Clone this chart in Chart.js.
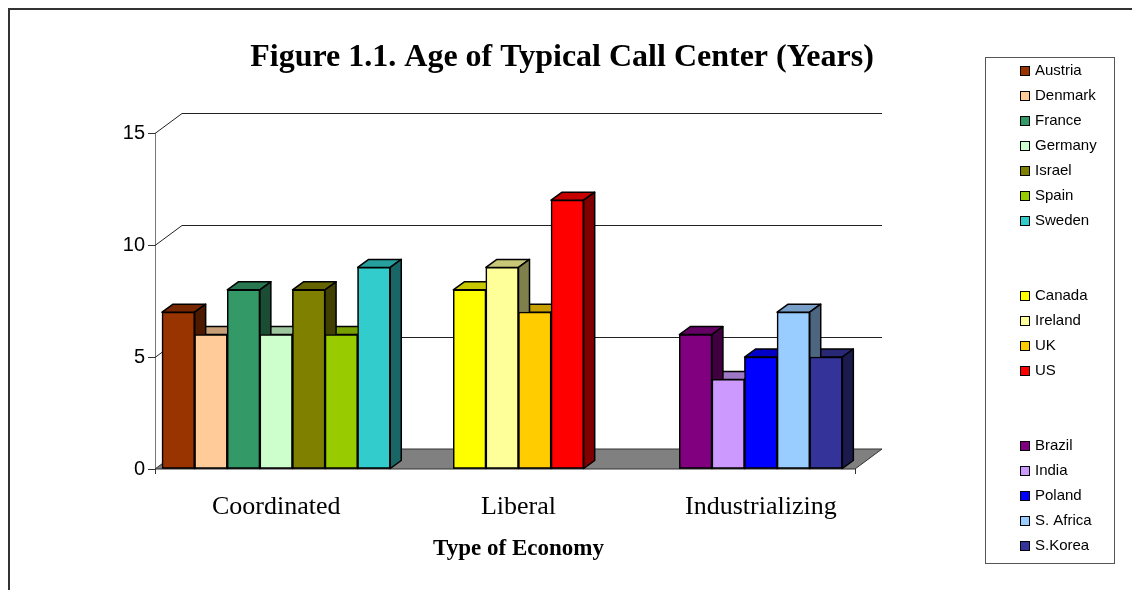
<!DOCTYPE html>
<html>
<head>
<meta charset="utf-8">
<script src="https://cdn.jsdelivr.net/npm/chart.js@4"></script>
<style>
  html, body { margin: 0; padding: 0; background: #fff; }
</style>
</head>
<body>
<canvas id="ageChart" width="1132" height="590"></canvas>
<script>
const economies = ['Coordinated', 'Liberal', 'Industrializing'];

const coordinatedCountries = ['Austria', 'Denmark', 'France', 'Germany', 'Israel', 'Spain', 'Sweden'];
const coordinatedAges = [7, 6, 8, 6, 8, 6, 9];

const liberalCountries = ['Canada', 'Ireland', 'UK', 'US'];
const liberalAges = [8, 9, 7, 12];

const industrializingCountries = ['Brazil', 'India', 'Poland', 'S. Africa', 'S.Korea'];
const industrializingAges = [6, 4, 5, 7, 5];

const yTicks = [0, 5, 10, 15];

// colours, same order as the country lists
const coordinatedColors = ['#993300', '#ffcc99', '#339966', '#ccffcc', '#808000', '#99cc00', '#33cccc'];
const liberalColors = ['#ffff00', '#ffff99', '#ffcc00', '#ff0000'];
const industrializingColors = ['#800080', '#cc99ff', '#0000ff', '#99ccff', '#333399'];

const groups = [
  [coordinatedCountries, coordinatedAges, coordinatedColors],
  [liberalCountries, liberalAges, liberalColors],
  [industrializingCountries, industrializingAges, industrializingColors],
];

const datasets = [];
groups.forEach(([names, ages, colors], g) => {
  names.forEach((name, i) => {
    datasets.push({
      label: name,
      data: economies.map((_, k) => (k === g ? ages[i] : null)),
      backgroundColor: colors[i],
      borderColor: '#000',
      borderWidth: 1.5,
      borderSkipped: false,
    });
  });
});

const SERIF = '"Liberation Serif", "Times New Roman", serif';
const SANS = '"Liberation Sans", Arial, sans-serif';

const wallDepth = { x: 27, y: 20 };
const barDepth = { x: 11, y: 8 };

function shade(hex, f) {
  const n = parseInt(hex.slice(1), 16);
  const r = Math.round(((n >> 16) & 255) * f);
  const g = Math.round(((n >> 8) & 255) * f);
  const b = Math.round((n & 255) * f);
  return `rgb(${r},${g},${b})`;
}

function poly(ctx, pts, fill) {
  ctx.beginPath();
  ctx.moveTo(pts[0][0], pts[0][1]);
  for (let i = 1; i < pts.length; i++) ctx.lineTo(pts[i][0], pts[i][1]);
  ctx.closePath();
  ctx.fillStyle = fill;
  ctx.fill();
  ctx.stroke();
}

const frame3d = {
  id: 'frame3d',
  beforeDraw(chart) {
    const ctx = chart.ctx;
    ctx.save();
    ctx.fillStyle = '#fff';
    ctx.fillRect(0, 0, chart.width, chart.height);
    ctx.strokeStyle = '#333';
    ctx.lineWidth = 2;
    ctx.strokeRect(9, 9, chart.width + 40, chart.height + 40);
    ctx.restore();
  },
  beforeDatasetsDraw(chart) {
    const { ctx, chartArea: a, scales: { y } } = chart;
    const base = y.getPixelForValue(0);
    const frontRight = a.right - wallDepth.x;
    ctx.save();
    ctx.lineWidth = 1;
    ctx.strokeStyle = '#222';
    y.ticks.forEach(t => {
      if (t.value === 0) return;
      const py = Math.round(y.getPixelForValue(t.value)) + 0.5;
      ctx.beginPath();
      ctx.moveTo(a.left, py);
      ctx.lineTo(a.left + wallDepth.x, py - wallDepth.y);
      ctx.lineTo(a.right, py - wallDepth.y);
      ctx.stroke();
    });
    ctx.strokeStyle = '#333';
    poly(ctx, [
      [a.left, base], [frontRight, base],
      [a.right, base - wallDepth.y], [a.left + wallDepth.x, base - wallDepth.y]
    ], '#808080');
    // x axis ticks at the floor front corners
    ctx.beginPath();
    ctx.moveTo(a.left + 0.5, base); ctx.lineTo(a.left + 0.5, base + 5);
    ctx.moveTo(frontRight + 0.5, base); ctx.lineTo(frontRight + 0.5, base + 5);
    ctx.stroke();
    ctx.restore();
  },
  afterDatasetsDraw(chart) {
    const ctx = chart.ctx;
    const bars = [];
    chart.data.datasets.forEach((ds, di) => {
      const meta = chart.getDatasetMeta(di);
      meta.data.forEach((el, i) => {
        if (ds.data[i] === null) return;
        bars.push({ el, color: ds.backgroundColor });
      });
    });
    bars.sort((p, q) => p.el.x - q.el.x);
    ctx.save();
    ctx.strokeStyle = '#000';
    ctx.lineWidth = 1.5;
    ctx.lineJoin = 'round';
    // top faces first
    bars.forEach(({ el, color }) => {
      const { x, y, width } = el.getProps(['x', 'y', 'width'], true);
      const l = x - width / 2, r = x + width / 2;
      poly(ctx, [[l, y], [r, y], [r + barDepth.x, y - barDepth.y], [l + barDepth.x, y - barDepth.y]], shade(color, 0.78));
    });
    // then front + right side, left to right
    bars.forEach(({ el, color }) => {
      el.draw(ctx);
      const { x, y, base, width } = el.getProps(['x', 'y', 'base', 'width'], true);
      const r = x + width / 2;
      ctx.strokeStyle = '#000';
      ctx.lineWidth = 1.5;
      poly(ctx, [[r, y], [r + barDepth.x, y - barDepth.y], [r + barDepth.x, base - barDepth.y], [r, base]], shade(color, 0.5));
    });
    ctx.restore();
  },
  afterDraw(chart) {
    const ctx = chart.ctx;
    ctx.save();
    // title
    ctx.fillStyle = '#000';
    ctx.font = `bold 32px ${SERIF}`;
    ctx.textAlign = 'center';
    ctx.textBaseline = 'middle';
    ctx.fillText('Figure 1.1. Age of Typical Call Center (Years)', 562, 58);

    // legend box
    const box = { left: 985, top: 57, width: 129, height: 506 };
    ctx.strokeStyle = '#555';
    ctx.lineWidth = 1;
    ctx.strokeRect(box.left + 0.5, box.top + 0.5, box.width, box.height);
    ctx.font = `15px ${SANS}`;
    ctx.textAlign = 'left';
    let row = 0, lastGroup = 0;
    chart.data.datasets.forEach(ds => {
      const g = ds.data.findIndex(v => v !== null);
      if (g !== lastGroup) { row += 2; lastGroup = g; }
      const cy = 71 + row * 25;
      ctx.fillStyle = ds.backgroundColor;
      ctx.fillRect(1021, cy - 4, 8, 8);
      ctx.strokeStyle = '#000';
      ctx.strokeRect(1020.5, cy - 4.5, 9, 9);
      ctx.fillStyle = '#000';
      ctx.fillText(ds.label, 1035, cy);
      row++;
    });
    ctx.restore();
  }
};

new Chart(document.getElementById('ageChart'), {
  type: 'bar',
  data: { labels: economies, datasets },
  options: {
    responsive: false,
    devicePixelRatio: 1,
    animation: false,
    skipNull: true,
    barThickness: 32.6,
    layout: { padding: { left: 95, right: 250, top: 133, bottom: 21 } },
    plugins: { legend: { display: false }, title: { display: false }, tooltip: { enabled: false } },
    scales: {
      x: {
        grid: { display: false },
        border: { display: false },
        ticks: { color: '#000', font: { family: SERIF, size: 26 }, padding: 15 },
        title: { display: true, text: 'Type of Economy', color: '#000', font: { family: SERIF, size: 23, weight: 'bold' }, padding: { top: 0, bottom: 6 } },
        afterFit(scale) { scale.height = 100; }
      },
      y: {
        min: 0,
        max: 15,
        afterBuildTicks(scale) { scale.ticks = yTicks.map(v => ({ value: v })); },
        grid: { drawOnChartArea: false, drawTicks: true, tickLength: 7, color: '#333' },
        border: { display: true, color: '#777' },
        ticks: { color: '#000', font: { family: SANS, size: 20 }, padding: 3 },
        afterFit(scale) { scale.width = 60; }
      }
    }
  },
  plugins: [frame3d]
});
</script>
</body>
</html>
